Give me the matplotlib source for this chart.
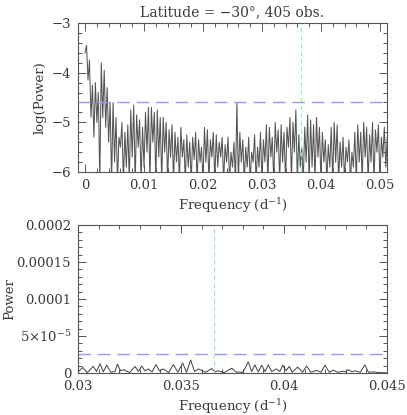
import numpy as np
import matplotlib
matplotlib.use("Agg")
import matplotlib.pyplot as plt
from matplotlib.ticker import MultipleLocator, FixedLocator, FixedFormatter

# ---------------- data ----------------
title_text = "Latitude = \u221230\u00b0, 405 obs."
top_step = 0.00025
top_logpower = [
    -3.6, -3.45, -4.15, -3.75, -4.9, -4.25, -5.3, -4.2, -5.0, -4.4,
    -6.2, -3.8, -4.9, -3.95, -5.1, -4.3, -5.4, -4.6, -6.2, -4.6,
    -5.8, -4.9, -6.2, -5.3, -5.5, -5.0, -6.2, -5.2, -5.9, -5.05,
    -6.2, -4.75, -5.7, -4.65, -6.2, -4.85, -5.5, -4.95, -6.2, -5.1,
    -5.9, -4.8, -5.6, -4.7, -6.2, -4.7, -5.4, -4.8, -6.2, -4.75,
    -5.7, -4.9, -6.2, -4.9, -5.6, -5.0, -6.2, -5.15, -5.7, -5.05,
    -6.2, -5.2, -5.8, -5.3, -6.2, -5.1, -5.7, -5.35, -6.2, -5.25,
    -5.9, -5.4, -6.2, -5.3, -5.75, -5.2, -6.2, -5.35, -5.8, -5.5,
    -6.2, -5.1, -5.8, -5.15, -6.2, -5.35, -5.7, -5.2, -6.2, -5.25,
    -5.9, -5.4, -5.7, -5.3, -6.2, -5.45, -5.8, -5.3, -6.2, -5.6,
    -5.9, -5.4, -6.2, -4.6, -6.2, -5.2, -5.8, -5.35, -6.2, -5.5,
    -5.9, -5.3, -6.2, -5.6, -5.8, -5.25, -6.2, -5.5, -5.9, -5.2,
    -6.2, -5.35, -5.8, -5.05, -6.2, -5.1, -5.7, -5.3, -6.2, -5.0,
    -5.6, -5.15, -6.2, -5.05, -5.8, -5.2, -6.2, -5.1, -5.5, -4.9,
    -6.2, -5.0, -5.6, -4.75, -6.2, -5.25, -5.9, -5.5, -6.2, -5.1,
    -5.8, -4.85, -6.2, -4.95, -5.9, -5.05, -6.2, -4.9, -5.7, -5.1,
    -6.2, -5.2, -5.8, -5.35, -6.2, -5.45, -5.9, -5.1, -6.2, -5.0,
    -5.8, -5.05, -6.2, -5.4, -5.9, -5.3, -6.2, -5.5, -5.8, -5.35,
    -6.2, -5.6, -5.9, -5.2, -6.2, -5.05, -5.8, -5.2, -6.2, -5.0,
    -5.7, -5.1, -6.2, -5.25, -5.8, -5.0, -6.2, -5.15, -5.6, -5.05,
    -6.2, -5.3, -5.7, -5.1, -5.9, -5.3,
]
top_freq = np.arange(len(top_logpower)) * top_step

bottom_freq = [
    0.0300, 0.03023, 0.03045, 0.03074, 0.0309, 0.03107, 0.03123, 0.03139,
    0.0316, 0.0318, 0.03191, 0.03207, 0.03223, 0.0325, 0.03277, 0.03293,
    0.03309, 0.03325, 0.03341, 0.0336, 0.03379, 0.03395, 0.03414, 0.0344,
    0.03463, 0.03485, 0.03508, 0.03527, 0.03547, 0.03566, 0.03584, 0.0362,
    0.03649, 0.03665, 0.03681, 0.0371, 0.03746, 0.0377, 0.03786, 0.0380,
    0.03827, 0.03843, 0.03859, 0.03875, 0.03892, 0.03908, 0.03924, 0.0394,
    0.03964, 0.0398, 0.03994, 0.0401, 0.04026, 0.0404, 0.04066, 0.0409,
    0.0411, 0.0413, 0.04159, 0.0418, 0.04199, 0.0422, 0.0424, 0.0426,
    0.04288, 0.0430, 0.04312, 0.0433, 0.04345, 0.0437, 0.04393, 0.0441,
    0.04434, 0.0446, 0.04474, 0.0450,
]
bottom_power_1e5 = [
    0.1, 0.75, 0.05, 0.9, 0.2, 1.25, 0.15, 1.05,
    0.1, 0.2, 1.2, 0.3, 0.45, 0.05, 0.9, 0.2,
    0.95, 0.3, 0.55, 0.15, 1.15, 0.3, 0.55, 0.05,
    1.15, 0.1, 1.35, 0.1, 1.75, 0.2, 0.55, 0.1,
    0.6, 0.15, 0.3, 0.05, 0.65, 0.1, 0.15, 0.05,
    1.5, 0.2, 1.1, 0.15, 1.05, 0.2, 1.1, 0.2,
    0.55, 0.2, 1.05, 0.3, 0.9, 0.1, 0.8, 0.1,
    0.95, 0.1, 0.35, 0.1, 1.05, 0.1, 0.4, 0.1,
    0.25, 0.15, 0.45, 0.15, 0.3, 0.1, 1.1, 0.1,
    0.15, 0.05, 0.05, 0.02,
]
threshold_log = -4.6
marker_freq = 0.0366

# ---------------- style ----------------
plt.rcParams['font.family'] = ['DejaVu Serif']
plt.rcParams['font.size'] = 9.5
txt = '#3a3a3a'
plt.rcParams['text.color'] = txt
plt.rcParams['axes.labelcolor'] = txt
plt.rcParams['xtick.color'] = '#555555'
plt.rcParams['ytick.color'] = '#555555'
plt.rcParams['xtick.labelcolor'] = txt
plt.rcParams['ytick.labelcolor'] = txt
plt.rcParams['mathtext.fontset'] = 'dejavuserif'

fig = plt.figure(figsize=(4.07, 4.15), dpi=100)
ax1 = fig.add_axes([0.1916, 0.5855, 0.7592, 0.3591])
ax2 = fig.add_axes([0.1916, 0.1012, 0.7592, 0.3566])

def style(ax):
    for s in ax.spines.values():
        s.set_color('#555555')
        s.set_linewidth(0.8)
    ax.tick_params(which='both', direction='in', top=True, right=True, width=0.7)
    ax.tick_params(which='major', length=6, pad=5)
    ax.tick_params(which='minor', length=3)

# top panel
ax1.plot(top_freq, top_logpower, color='#555555', lw=0.75)
ax1.axhline(threshold_log, color='#9999ee', lw=1.0, dashes=(9, 5))
ax1.axvline(marker_freq, color='#99ee99', lw=0.8, dashes=(4, 3))
ax1.set_xlim(-0.0012, 0.0512)
ax1.set_ylim(-6, -3)
ax1.xaxis.set_major_locator(MultipleLocator(0.01))
ax1.xaxis.set_minor_locator(MultipleLocator(0.002))
ax1.yaxis.set_major_locator(MultipleLocator(1))
ax1.yaxis.set_minor_locator(MultipleLocator(0.2))
ax1.xaxis.set_major_formatter(plt.FuncFormatter(lambda v, p: '0' if abs(v) < 1e-9 else f'{v:g}'))
ax1.yaxis.set_major_formatter(plt.FuncFormatter(lambda v, p: f'{int(round(v))}'.replace('-', '\u2212')))
ax1.set_xlabel('Frequency (d$^{-1}$)', labelpad=3)
ax1.set_ylabel('log(Power)')
ax1.yaxis.set_label_coords(-0.10, 0.5)
ax1.set_title(title_text, fontsize=10, pad=5, color=txt)
style(ax1)

# bottom panel
ax2.plot(bottom_freq, np.array(bottom_power_1e5) * 1e-5, color='#404040', lw=0.7)
ax2.axhline(10 ** threshold_log, color='#9999ee', lw=1.0, dashes=(9, 5))
ax2.axvline(marker_freq, color='#99ee99', lw=0.8, dashes=(4, 3))
ax2.set_xlim(0.03, 0.045)
ax2.set_ylim(0, 0.0002)
ax2.xaxis.set_major_locator(MultipleLocator(0.005))
ax2.xaxis.set_minor_locator(MultipleLocator(0.001))
ax2.xaxis.set_major_formatter(plt.FuncFormatter(lambda v, p: f'{v:g}'))
ax2.yaxis.set_major_locator(FixedLocator([0, 5e-5, 1e-4, 1.5e-4, 2e-4]))
ax2.yaxis.set_major_formatter(FixedFormatter(['0', r'5$\times$10$^{-5}$', '0.0001', '0.00015', '0.0002']))
ax2.yaxis.set_minor_locator(MultipleLocator(1e-5))
ax2.set_xlabel('Frequency (d$^{-1}$)', labelpad=3)
ax2.set_ylabel('Power')
ax2.yaxis.set_label_coords(-0.20, 0.5)
style(ax2)

fig.savefig('out.png', dpi=100)
